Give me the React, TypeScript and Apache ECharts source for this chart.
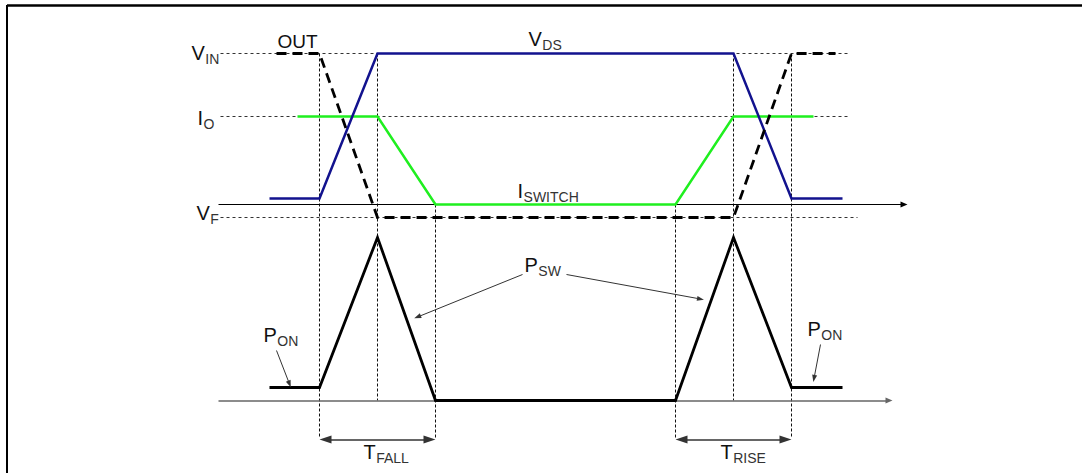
import React, { useEffect, useRef } from "react";
import * as echarts from "echarts";

const W = 1082;
const H = 473;

// Switching instants (time units) and the vertical extent of their dotted markers
const instantTime = [319, 377, 435, 675, 733, 791];
const instantFrom = [53, 53, 204, 204, 53, 53];
const instantTo = [438, 400, 438, 438, 400, 438];

// V_DS waveform
const vdsTime = [269, 319, 377, 733, 791, 842];
const vdsLevel = [198, 198, 53, 53, 198, 198];

// I_SWITCH waveform
const iswTime = [297, 377, 435, 675, 733, 813];
const iswLevel = [116, 116, 204, 204, 116, 116];

// OUT waveform (dashed)
const outTime = [276, 319, 377, 733, 791, 835];
const outLevel = [53, 53, 217, 217, 53, 53];

// Power waveform (P_ON / P_SW)
const pwrTime = [269, 319, 377, 435, 675, 733, 791, 842];
const pwrLevel = [387, 387, 237, 400, 400, 237, 387, 387];

// Reference levels V_IN, I_O, V_F (dashed guides)
const guideLevel = [53, 116, 217];
const guideStart = [220, 220, 220];
const guideEnd = [849, 849, 857];

// Time axes of both panels
const axisLevel = [204, 400];
const axisStart = [218, 218];
const axisEnd = [903.5, 888.5];

// Annotation arrows [x1, y1, x2, y2]
const annotArrows = [
  [276, 350, 289, 383.5],
  [820, 344, 813.5, 378],
  [522, 274, 417, 316.5],
  [566, 274, 700, 298.5],
];

// Duration arrows (T_FALL, T_RISE)
const spanLevel = 439;
const spanStart = [325, 681];
const spanEnd = [429, 785];

// Text labels: main letter, subscript, anchor (left, middle)
const labels = [
  { main: "V", sub: "IN", x: 191, y: 52.5 },
  { main: "I", sub: "O", x: 197, y: 117 },
  { main: "V", sub: "F", x: 196, y: 212.5 },
  { main: "V", sub: "DS", x: 528, y: 38 },
  { main: "I", sub: "SWITCH", x: 517, y: 190.5 },
  { main: "P", sub: "ON", x: 263, y: 334.5 },
  { main: "P", sub: "ON", x: 807, y: 328 },
  { main: "P", sub: "SW", x: 524, y: 264.5 },
  { main: "T", sub: "FALL", x: 363, y: 451 },
  { main: "T", sub: "RISE", x: 720, y: 451 },
];
const outLabel = { text: "OUT", x: 277, y: 41 };

const FONT = '"Liberation Sans", Arial, sans-serif';
const MAIN_SIZE = 20;
const SUB_SIZE = 14;

function measure(text: string, size: number): number {
  const c = document.createElement("canvas");
  const ctx = c.getContext("2d");
  if (!ctx) return text.length * size * 0.6;
  ctx.font = `${size}px ${FONT}`;
  return ctx.measureText(text).width;
}

function pairs(xs: number[], ys: number[]) {
  return xs.map((x, i) => [x, ys[i]]);
}

function wave(xs: number[], ys: number[], color: string, width: number, type: any, z: number) {
  return {
    type: "line",
    data: pairs(xs, ys),
    showSymbol: false,
    symbol: "none",
    silent: true,
    z,
    lineStyle: { color, width, type, join: "miter", cap: "butt" },
  };
}

export default function App() {
  const ref = useRef<HTMLDivElement>(null);

  useEffect(() => {
    document.body.style.margin = "0";
    document.body.style.background = "#fff";
    if (!ref.current) return;
    const chart = echarts.init(ref.current, undefined, { renderer: "svg" });

    const series: any[] = [];

    // dashed horizontal guides
    guideLevel.forEach((lv, i) => {
      series.push(wave([guideStart[i], guideEnd[i]], [lv, lv], "#333", 1, [3, 3], 1));
    });
    // dotted vertical instants
    instantTime.forEach((t, i) => {
      series.push(wave([t, t], [instantFrom[i], instantTo[i]], "#111", 1, [3, 2], 1));
    });

    // axes with arrows
    axisLevel.forEach((lv, i) => {
      series.push({
        type: "line",
        data: [],
        silent: true,
        z: 2,
        markLine: {
          silent: true,
          animation: false,
          z: 2,
          symbol: ["none", "triangle"],
          symbolSize: [6, 7],
          label: { show: false },
          lineStyle: { color: i === 0 ? "#000" : "#666", width: i === 0 ? 1 : 1.5, type: "solid" },
          data: [[{ coord: [axisStart[i], lv] }, { coord: [axisEnd[i], lv] }]],
        },
      });
    });

    // waveforms
    series.push(wave(iswTime, iswLevel, "#1fef1f", 2.5, "solid", 4));
    series.push(wave(vdsTime, vdsLevel, "#12128e", 2.5, "solid", 5));
    series.push(wave(outTime, outLevel, "#000", 2.8, [10, 6], 6));
    series.push(wave(pwrTime, pwrLevel, "#000", 2.8, "solid", 6));

    // annotation arrows
    series.push({
      type: "line",
      data: [],
      silent: true,
      z: 7,
      markLine: {
        silent: true,
        animation: false,
        z: 7,
        symbol: ["none", "triangle"],
        symbolSize: [5, 7],
        label: { show: false },
        lineStyle: { color: "#333", width: 1, type: "solid" },
        data: annotArrows.map((a) => [{ coord: [a[0], a[1]] }, { coord: [a[2], a[3]] }]),
      },
    });

    // duration arrows
    series.push({
      type: "line",
      data: [],
      silent: true,
      z: 7,
      markLine: {
        silent: true,
        animation: false,
        z: 7,
        symbol: ["triangle", "triangle"],
        symbolSize: [8, 12],
        label: { show: false },
        lineStyle: { color: "#333", width: 1.5, type: "solid" },
        data: spanStart.map((s, i) => [{ coord: [s, spanLevel] }, { coord: [spanEnd[i], spanLevel] }]),
      },
    });

    chart.setOption({
      animation: false,
      backgroundColor: "#fff",
      grid: { left: 0, top: 0, right: 0, bottom: 0, containLabel: false },
      xAxis: { type: "value", min: -0.5, max: W - 0.5, show: false },
      yAxis: { type: "value", min: -0.5, max: H - 0.5, inverse: true, show: false },
      series,
    });

    const graphics: any[] = [];
    // frame
    graphics.push({
      type: "line",
      shape: { x1: 7, y1: 5.5, x2: W, y2: 5.5 },
      style: { stroke: "#000", lineWidth: 2.5 },
      silent: true,
    });
    graphics.push({
      type: "line",
      shape: { x1: 7, y1: 5, x2: 7, y2: H },
      style: { stroke: "#000", lineWidth: 2 },
      silent: true,
    });

    labels.forEach((l) => {
      const p = chart.convertToPixel({ gridIndex: 0 }, [l.x, l.y]) as number[];
      const mw = measure(l.main, MAIN_SIZE);
      graphics.push({
        type: "text",
        x: p[0],
        y: p[1],
        silent: true,
        z: 10,
        style: {
          text: l.main,
          fontSize: MAIN_SIZE,
          fontFamily: FONT,
          fill: "#111",
          align: "left",
          verticalAlign: "middle",
        },
      });
      graphics.push({
        type: "text",
        x: p[0] + mw + 0.5,
        y: p[1] + 6,
        silent: true,
        z: 10,
        style: {
          text: l.sub,
          fontSize: SUB_SIZE,
          fontFamily: FONT,
          fill: "#333",
          align: "left",
          verticalAlign: "middle",
        },
      });
    });
    {
      const p = chart.convertToPixel({ gridIndex: 0 }, [outLabel.x, outLabel.y]) as number[];
      graphics.push({
        type: "text",
        x: p[0],
        y: p[1],
        silent: true,
        z: 10,
        style: {
          text: outLabel.text,
          fontSize: 19,
          fontFamily: FONT,
          fill: "#111",
          align: "left",
          verticalAlign: "middle",
        },
      });
    }

    chart.setOption({ graphic: graphics });

    return () => {
      chart.dispose();
    };
  }, []);

  return <div ref={ref} style={{ width: W, height: H }} />;
}
